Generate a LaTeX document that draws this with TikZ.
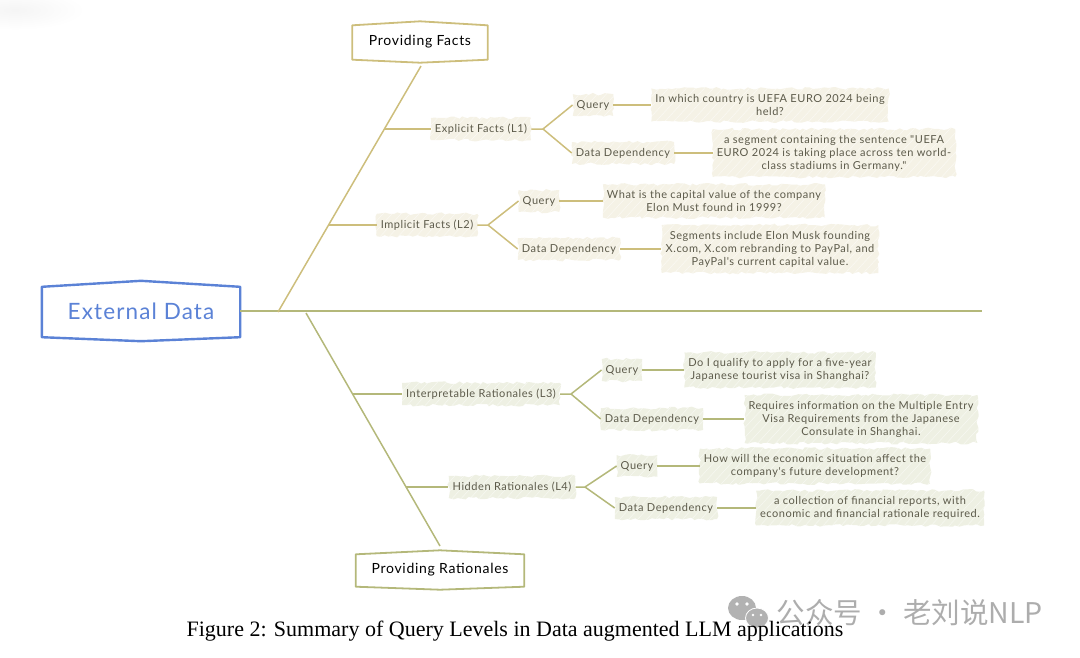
\documentclass[tikz,border=0pt]{standalone}
\usepackage{fontspec}
\setmainfont{Lato}
\newfontfamily\handfont[LetterSpace=5]{Lato}
\newfontfamily\capfont{Liberation Serif}
\newfontfamily\cjk{Noto Sans CJK SC}
\usetikzlibrary{calc,decorations.pathmorphing}
\definecolor{rootblue}{HTML}{5B82D6}
\definecolor{tanline}{HTML}{CDBE7C}
\definecolor{oliveline}{HTML}{B4B87A}
\definecolor{tanfill}{HTML}{F5F2E6}
\definecolor{olivefill}{HTML}{EEF0E3}
\definecolor{labeltext}{HTML}{5C5A4A}
\begin{document}
\begin{tikzpicture}[x=1pt, y=-1pt,
	blob/.style={align=center, text=labeltext, inner xsep=4pt, inner ysep=6pt, decorate,
		decoration={random steps, segment length=4pt, amplitude=1.4pt},
		font=\handfont\fontsize{11}{13}\selectfont,
		path picture={\foreach \k in {-50,-41,...,260}
			\draw[white, opacity=.55, line width=.5pt] ($(path picture bounding box.south west)+(\k,0)$) -- ++(55,-60);}},
	tanblob/.style={blob, fill=tanfill},
	oliveblob/.style={blob, fill=olivefill},
	tag/.style={text=black, font=\handfont\fontsize{14}{16}\selectfont},
	tanlink/.style={draw=tanline, line width=1.5pt},
	olivelink/.style={draw=oliveline, line width=1.5pt}]
	\useasboundingbox (0,0) rectangle (1080,657);
	\shade[inner color=black!4, outer color=white] (15,10) ellipse (70 and 20);
	% central topic and the two branch tags
	\node[minimum width=198pt, minimum height=60pt, text=rootblue, font=\handfont\fontsize{22.5}{26}\selectfont] (root) at (141,311) {External Data};
	\node[tag, minimum width=135pt, minimum height=41pt] (facts) at (420,42) {Providing Facts};
	\node[tag, minimum width=168pt, minimum height=39pt] (rationales) at (440,570) {Providing Rationales};
	\foreach \n/\c/\w/\t/\b in {root/rootblue/2.4pt/6/4, facts/tanline/1.8pt/4/3, rationales/oliveline/1.8pt/4/3}
		\draw[\c, line width=\w, line join=round] ($(\n.north west)+(0,\t)$) -- (\n.north) -- ($(\n.north east)+(0,\t)$)
			-- ($(\n.south east)+(0,-\b)$) -- (\n.south) -- ($(\n.south west)+(0,-\b)$) -- cycle;
	% facts side
	\node[tanblob] (explicit) at (481,129) {Explicit Facts (L1)};
	\node[tanblob] (qa) at (593,105) {Query};
	\node[tanblob] (ansa) at (770,105) {In which country is UEFA EURO 2024 being\\held?};
	\node[tanblob] (da) at (623,153) {Data Dependency};
	\node[tanblob] (depa) at (834,153) {a segment containing the sentence "UEFA\\EURO 2024 is taking place across ten world-\\class stadiums in Germany."};
	\node[tanblob] (implicit) at (427,225) {Implicit Facts (L2)};
	\node[tanblob] (qb) at (539,201) {Query};
	\node[tanblob] (ansb) at (714,201) {What is the capital value of the company\\Elon Must found in 1999?};
	\node[tanblob] (db) at (569,249) {Data Dependency};
	\node[tanblob] (depb) at (770,249) {Segments include Elon Musk founding\\X.com, X.com rebranding to PayPal, and\\PayPal's current capital value.};
	% rationales side
	\node[oliveblob] (interp) at (481,394) {Interpretable Rationales (L3)};
	\node[oliveblob] (qc) at (622,370) {Query};
	\node[oliveblob] (ansc) at (780,370) {Do I qualify to apply for a five-year\\Japanese tourist visa in Shanghai?};
	\node[oliveblob] (dc) at (652,419) {Data Dependency};
	\node[oliveblob] (depc) at (861,419) {Requires information on the Multiple Entry\\Visa Requirements from the Japanese\\Consulate in Shanghai.};
	\node[oliveblob] (hidden) at (512,487) {Hidden Rationales (L4)};
	\node[oliveblob] (qd) at (637,466) {Query};
	\node[oliveblob] (ansd) at (815,466) {How will the economic situation affect the\\company's future development?};
	\node[oliveblob] (dd) at (666,508) {Data Dependency};
	\node[oliveblob] (depd) at (870,508) {a collection of financial reports, with\\economic and financial rationale required.};
	% free ends and forks
	\coordinate (mainend) at (982,311);
	\coordinate (fbase) at (278,312);
	\coordinate (ftip) at (421,66);
	\coordinate (rbase) at (306,313);
	\coordinate (rtip) at (440,546);
	\coordinate (fa) at (385,129);
	\coordinate (fb) at (329,225);
	\coordinate (ra) at (353,394);
	\coordinate (rb) at (406,487);
	\coordinate (forka) at (543,129);
	\coordinate (forkb) at (488,225);
	\coordinate (forkc) at (571,394);
	\coordinate (forkd) at (585,487);
	% connectors
	\draw[olivelink] (root.east) -- (mainend);
	\draw[tanlink] (fbase) -- (ftip);
	\draw[olivelink] (rbase) -- (rtip);
	\draw[tanlink] (fa) -- (explicit);
	\draw[tanlink] (fb) -- (implicit);
	\draw[olivelink] (ra) -- (interp);
	\draw[olivelink] (rb) -- (hidden);
	\foreach \l/\f/\q/\d/\a/\b in {explicit/forka/qa/da/ansa/depa, implicit/forkb/qb/db/ansb/depb}{
		\draw[tanlink] (\l) -- (\f) -- (\q.west);
		\draw[tanlink] (\f) -- (\d.west);
		\draw[tanlink] (\q) -- (\a);
		\draw[tanlink] (\d) -- (\b);
	}
	\foreach \l/\f/\q/\d/\a/\b in {interp/forkc/qc/dc/ansc/depc, hidden/forkd/qd/dd/ansd/depd}{
		\draw[olivelink] (\l) -- (\f) -- (\q.west);
		\draw[olivelink] (\f) -- (\d.west);
		\draw[olivelink] (\q) -- (\a);
		\draw[olivelink] (\d) -- (\b);
	}
	% watermark and caption
	\fill[black!30] (742,608) ellipse (14 and 12);
	\fill[black!30, draw=white, line width=.8pt] (757,618) ellipse (11.5 and 10);
	\fill[white] (737,604) circle (1.8) (747,604) circle (1.8) (753,615) circle (1.4) (761,615) circle (1.4);
	\node[text=black!32, font=\cjk\fontsize{28.5}{32}\selectfont, anchor=west] (mark) at (773,613) {公众号 · 老刘说NLP};
	\node[text=black, font=\capfont\fontsize{22}{24}\selectfont] (caption) at (515,631) {Figure 2: Summary of Query Levels in Data augmented LLM applications};
\end{tikzpicture}
\end{document}
